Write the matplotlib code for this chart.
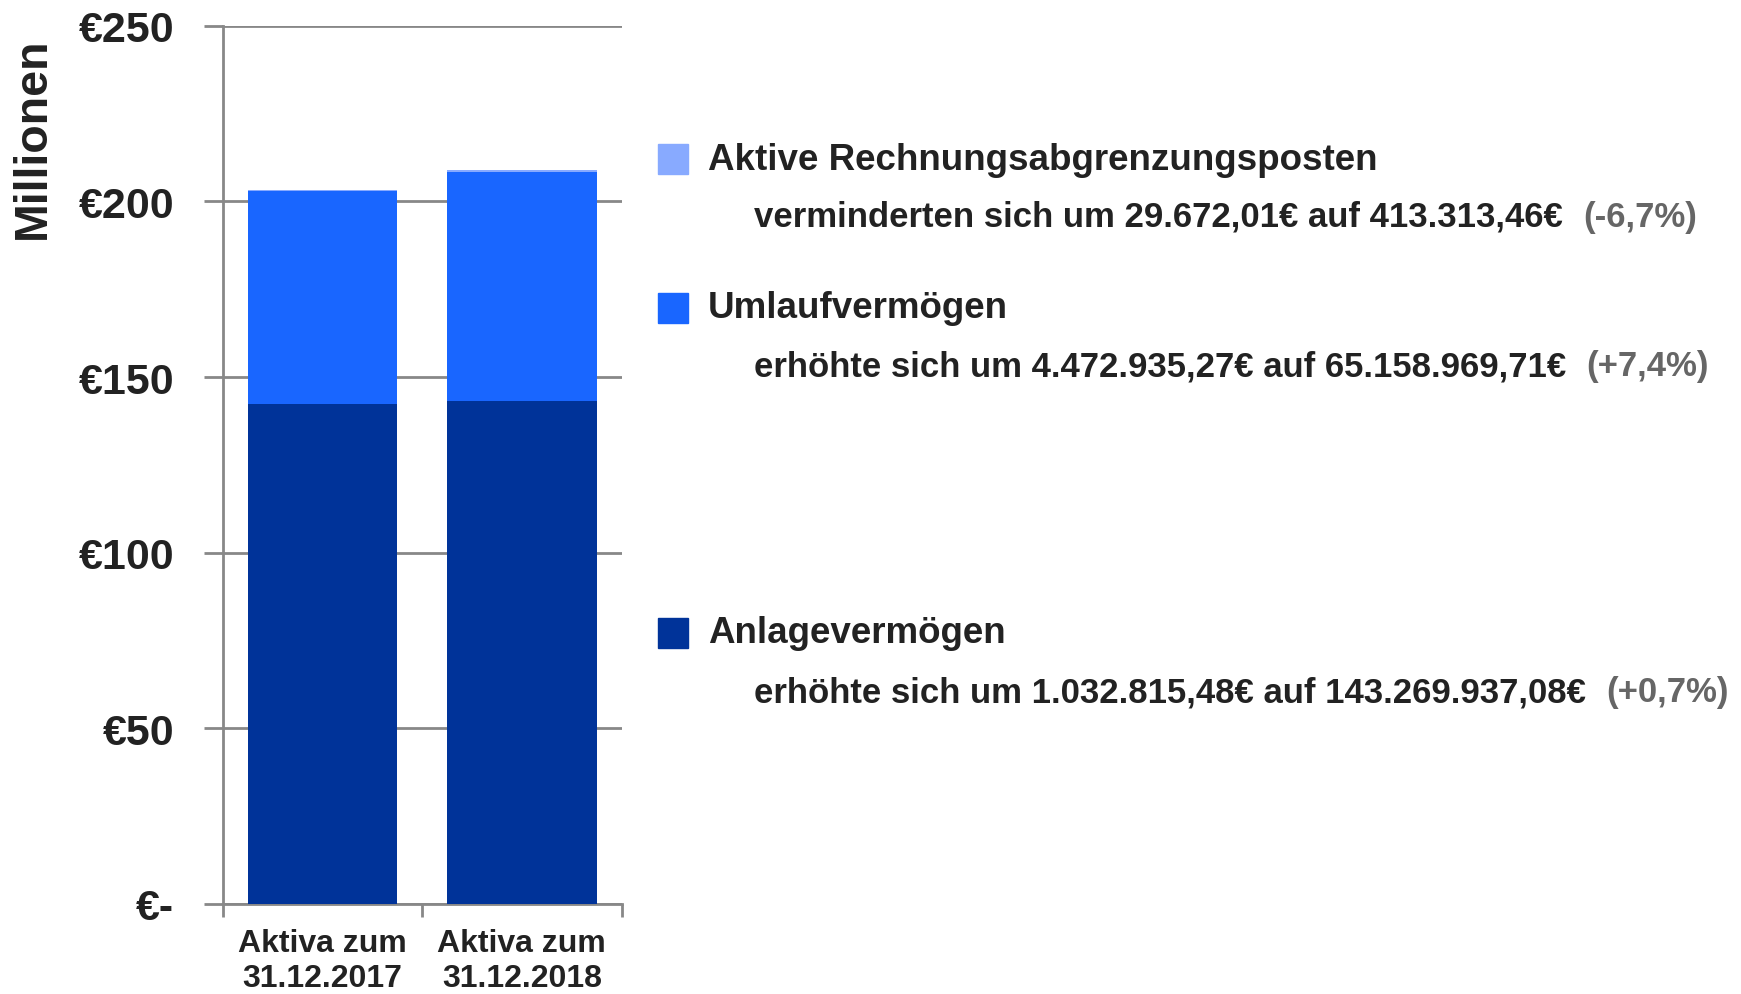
import matplotlib
matplotlib.use("Agg")
import matplotlib.pyplot as plt
from matplotlib.patches import Rectangle

# values in Mio. EUR
categories = ["Aktiva zum\n31.12.2017", "Aktiva zum\n31.12.2018"]
anlage = [142.237, 143.270]
umlauf = [60.686, 65.159]
rap = [0.443, 0.413]

series_names = ["Anlagevermögen", "Umlaufvermögen", "Aktive Rechnungsabgrenzungsposten"]
series_colors = ["#003399", "#1966FF", "#88AAFF"]
notes = [
    ("erhöhte sich um 1.032.815,48€ auf 143.269.937,08€", "(+0,7%)"),
    ("erhöhte sich um 4.472.935,27€ auf 65.158.969,71€", "(+7,4%)"),
    ("verminderten sich um 29.672,01€ auf 413.313,46€", "(-6,7%)"),
]
ytick_vals = [0, 50, 100, 150, 200, 250]
ytick_labels = ["€-", "€50", "€100", "€150", "€200", "€250"]

plt.rcParams['font.family'] = ['Liberation Sans', 'DejaVu Sans']
plt.rcParams['font.weight'] = 'bold'

fig = plt.figure(figsize=(17.41, 9.95), dpi=100)
ax = fig.add_axes([0.128, 0.0905, 0.229, 0.8825])

x = range(len(categories))
bottom2 = [a + u for a, u in zip(anlage, umlauf)]
ax.bar(x, anlage, width=0.75, color=series_colors[0], zorder=3)
ax.bar(x, umlauf, width=0.75, bottom=anlage, color=series_colors[1], zorder=3)
ax.bar(x, rap, width=0.75, bottom=bottom2, color=series_colors[2], zorder=3)

ax.set_xlim(-0.5, 1.5)
ax.set_ylim(0, 250)
ax.set_yticks(ytick_vals)
ax.set_yticklabels(ytick_labels, fontsize=31, fontweight='bold', color='#222222')
ax.yaxis.grid(True, color='#888888', linewidth=2, zorder=0)
ax.tick_params(axis='y', length=14, width=2, color='#888888', pad=21)

ax.set_xticks([-0.5, 0.5, 1.5], minor=False)
ax.set_xticklabels([])
ax.set_xticks(list(x), minor=True)
ax.set_xticklabels(categories, minor=True, fontsize=23, fontweight='bold',
                   color='#222222', linespacing=1.22)
ax.tick_params(axis='x', which='major', length=9, width=2, color='#888888')
ax.tick_params(axis='x', which='minor', length=0, pad=17)

for s in ['top', 'right']:
    ax.spines[s].set_visible(False)
for s in ['left', 'bottom']:
    ax.spines[s].set_color('#888888')
    ax.spines[s].set_linewidth(2)

fig.text(0.019, 0.861, "Millionen", rotation=90, fontsize=33.5, fontweight='bold',
         color='#222222', ha='center', va='center')

# legend with notes
W, H = 1741, 995
rows = [(634, 693), (309, 367), (160, 217)]  # pixel y of title / note
fig.canvas.draw()
renderer = fig.canvas.get_renderer()
for i in range(3):
    ty, ny = rows[i]
    fig.patches.append(Rectangle((658 / W, 1 - (ty + 15) / H), 30 / W, 30 / H,
                                 transform=fig.transFigure, color=series_colors[i]))
    fig.text(708 / W, 1 - ty / H, series_names[i], fontsize=26.5, fontweight='bold',
             color='#222222', va='center', ha='left')
    t = fig.text(754 / W, 1 - ny / H, notes[i][0], fontsize=25, fontweight='bold',
                 color='#222222', va='center', ha='left')
    bb = t.get_window_extent(renderer)
    fig.text((bb.x1 + 20) / W, 1 - ny / H, notes[i][1], fontsize=25, fontweight='bold',
             color='#666666', va='center', ha='left')

fig.savefig("out.png", dpi=100)
